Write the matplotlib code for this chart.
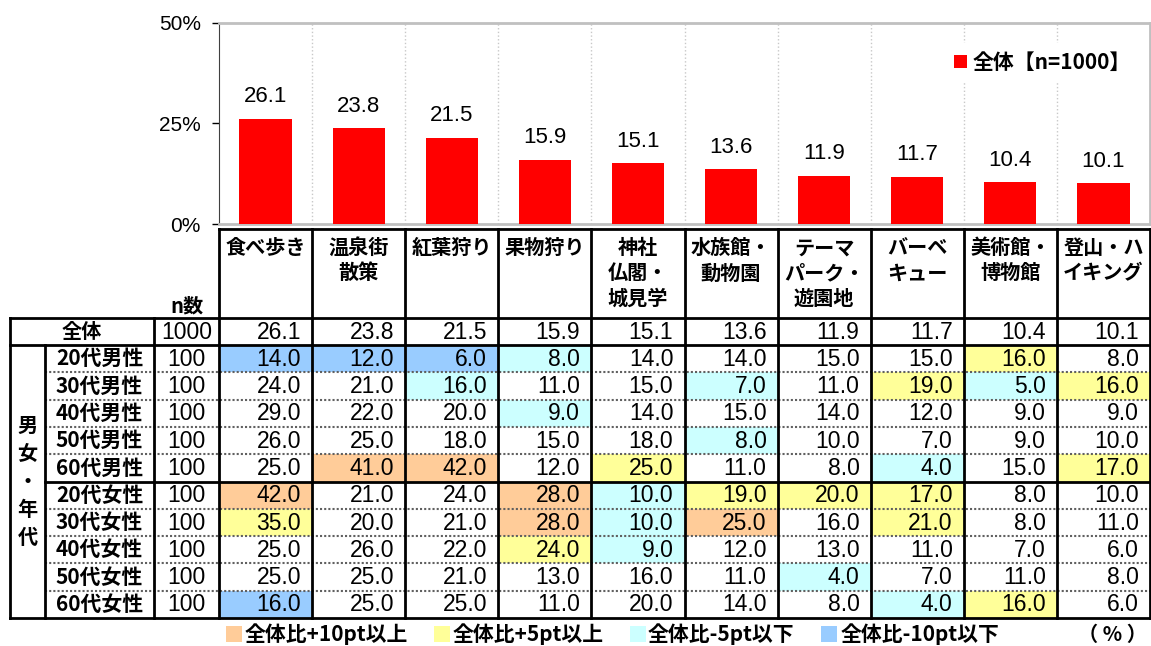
import matplotlib
matplotlib.use('Agg')
import matplotlib.pyplot as plt
from matplotlib.patches import Rectangle

plt.rcParams['font.family'] = ['Noto Sans CJK JP', 'DejaVu Sans']

# データ
categories = ['食べ歩き', '温泉街\n散策', '紅葉狩り', '果物狩り', '神社\n仏閣・\n城見学',
              '水族館・\n動物園', 'テーマ\nパーク・\n遊園地', 'バーベ\nキュー',
              '美術館・\n博物館', '登山・ハ\nイキング']
total = [26.1, 23.8, 21.5, 15.9, 15.1, 13.6, 11.9, 11.7, 10.4, 10.1]
n_total = 1000

groups = ['20代男性', '30代男性', '40代男性', '50代男性', '60代男性',
          '20代女性', '30代女性', '40代女性', '50代女性', '60代女性']
n_groups = [100, 100, 100, 100, 100, 100, 100, 100, 100, 100]

m20 = [14.0, 12.0, 6.0, 8.0, 14.0, 14.0, 15.0, 15.0, 16.0, 8.0]
m30 = [24.0, 21.0, 16.0, 11.0, 15.0, 7.0, 11.0, 19.0, 5.0, 16.0]
m40 = [29.0, 22.0, 20.0, 9.0, 14.0, 15.0, 14.0, 12.0, 9.0, 9.0]
m50 = [26.0, 25.0, 18.0, 15.0, 18.0, 8.0, 10.0, 7.0, 9.0, 10.0]
m60 = [25.0, 41.0, 42.0, 12.0, 25.0, 11.0, 8.0, 4.0, 15.0, 17.0]
f20 = [42.0, 21.0, 24.0, 28.0, 10.0, 19.0, 20.0, 17.0, 8.0, 10.0]
f30 = [35.0, 20.0, 21.0, 28.0, 10.0, 25.0, 16.0, 21.0, 8.0, 11.0]
f40 = [25.0, 26.0, 22.0, 24.0, 9.0, 12.0, 13.0, 11.0, 7.0, 6.0]
f50 = [25.0, 25.0, 21.0, 13.0, 16.0, 11.0, 4.0, 7.0, 11.0, 8.0]
f60 = [16.0, 25.0, 25.0, 11.0, 20.0, 14.0, 8.0, 4.0, 16.0, 6.0]
rows = [m20, m30, m40, m50, m60, f20, f30, f40, f50, f60]

legend_labels = ['全体比+10pt以上', '全体比+5pt以上', '全体比-5pt以下', '全体比-10pt以下']
legend_colors = ['#FFCC99', '#FFFF99', '#CCFFFF', '#99CCFF']

NUM = ['Liberation Sans', 'DejaVu Sans']

W, H = 1151, 646
def fx(px):
    return px / W
def fy(py):
    return 1 - py / H

def cell_color(v, base):
    d = v - base
    if d >= 10:
        return legend_colors[0]
    if d >= 5:
        return legend_colors[1]
    if d <= -10:
        return legend_colors[3]
    if d <= -5:
        return legend_colors[2]
    return None

fig = plt.figure(figsize=(W / 100, H / 100), dpi=100)

# 棒グラフ
ax = fig.add_axes([fx(219), fy(224), fx(1150) - fx(219), fy(23) - fy(224)])
xs = [i + 0.5 for i in range(len(total))]
ax.bar(xs, total, width=0.56, color='#FF0000', label='全体【n=1000】', zorder=3)
for x, v in zip(xs, total):
    ax.annotate(f'{v:.1f}', (x, v), xytext=(0, 12), textcoords='offset points',
                ha='center', va='baseline', fontsize=16, family=NUM)
ax.set_xlim(0, 10)
ax.set_ylim(0, 50)
ax.set_xticks([])
ax.set_yticks([0, 25, 50])
ax.set_yticklabels(['0%', '25%', '50%'], family=NUM, fontsize=15)
ax.tick_params(axis='y', length=5, width=1, pad=8)
for k in range(1, 10):
    ax.axvline(k, color='#C8C8C8', ls=':', lw=1, zorder=1)
ax.spines['left'].set_color('#404040')
for s in ['top', 'bottom', 'right']:
    ax.spines[s].set_color('#C0C0C0')
    ax.spines[s].set_linewidth(2)
lg = ax.legend(loc='upper right', bbox_to_anchor=(1.0, 0.95), frameon=True,
               handlelength=0.6, handleheight=0.6, handletextpad=0.3,
               prop={'size': 15, 'weight': 'bold'})
lg.get_frame().set_facecolor('white')
lg.get_frame().set_edgecolor('none')
lg.get_frame().set_alpha(1)

# 表
tb = fig.add_axes([fx(10), fy(618), fx(1150) - fx(10), fy(229) - fy(618)])
xl_left, xl_grp, xl_lab = -2.245, -1.869, -0.698
top = -3.26
tb.set_xlim(xl_left, 10)
tb.set_ylim(11, top)
tb.axis('off')

for i, r in enumerate(rows):
    for j, v in enumerate(r):
        c = cell_color(v, total[j])
        if c:
            tb.add_patch(Rectangle((j, i + 1), 1, 1, facecolor=c, edgecolor='none', zorder=1))

lk = dict(color='black', lw=2, clip_on=False, zorder=3, solid_capstyle='projecting')
# 縦線
for k in range(0, 11):
    tb.plot([k, k], [top, 11], **lk)
tb.plot([xl_lab, xl_lab], [0, 11], **lk)
tb.plot([xl_left, xl_left], [0, 11], **lk)
tb.plot([xl_grp, xl_grp], [1, 11], **lk)
# 横線
tb.plot([0, 10], [top, top], **lk)
tb.plot([xl_left, 10], [0, 0], **lk)
tb.plot([xl_left, 10], [1, 1], **lk)
tb.plot([xl_left, 10], [11, 11], **lk)
tb.plot([xl_grp, 10], [6, 6], **lk)
for y in [2, 3, 4, 5, 7, 8, 9, 10]:
    tb.plot([xl_grp, 10], [y, y], color='#606060', lw=1.5, ls=(0, (1, 1)), zorder=2)

# 見出し
for j, c in enumerate(categories):
    tb.text(j + 0.5, top + 0.3, c, ha='center', va='top', fontsize=14.5,
            weight='bold', linespacing=1.25)
tb.text((xl_lab + 0) / 2, -0.05, 'n数', ha='center', va='bottom', fontsize=14.5, weight='bold')

# 全体行
tb.text((xl_left + xl_lab) / 2, 0.5, '全体', ha='center', va='center', fontsize=14.5, weight='bold')
tb.text(xl_lab / 2, 0.52, str(n_total), ha='center', va='center', fontsize=16.5, family=NUM)
for j, v in enumerate(total):
    tb.text(j + 0.88, 0.52, f'{v:.1f}', ha='right', va='center', fontsize=16.5, family=NUM)

# 属性行
for i, (g, n, r) in enumerate(zip(groups, n_groups, rows)):
    y = i + 1.5
    tb.text((xl_grp + xl_lab) / 2, y, g, ha='center', va='center', fontsize=15, weight='bold')
    tb.text(xl_lab / 2, y + 0.02, str(n), ha='center', va='center', fontsize=16.5, family=NUM)
    for j, v in enumerate(r):
        tb.text(j + 0.88, y + 0.02, f'{v:.1f}', ha='right', va='center', fontsize=16.5, family=NUM)

for k, ch in enumerate('男女・年代'):
    tb.text((xl_left + xl_grp) / 2, 6 + (k - 2) * 1.03, ch, ha='center', va='center',
            fontsize=14.5, weight='bold')

# 凡例(下)
sq_x = [226, 434, 630, 821]
tx_x = [245, 453, 648, 841]
for c, lab, sx, tx in zip(legend_colors, legend_labels, sq_x, tx_x):
    fig.add_artist(Rectangle((fx(sx), fy(642)), fx(16), 16 / H, facecolor=c,
                             edgecolor='none', transform=fig.transFigure))
    fig.text(fx(tx), fy(634), lab, ha='left', va='center', fontsize=15, weight='bold')
fig.text(fx(1147), fy(634), '（ % ）', ha='right', va='center', fontsize=14.5, weight='bold')

fig.savefig('out.png', dpi=100)
